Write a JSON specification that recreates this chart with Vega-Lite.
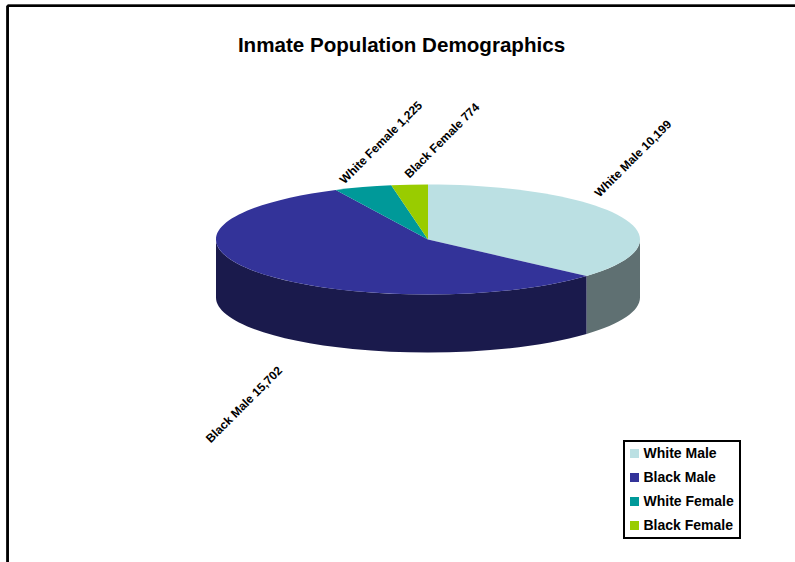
{
  "$schema": "https://vega.github.io/schema/vega-lite/v6.json",
  "width": 795,
  "height": 562,
  "padding": 0,
  "autosize": {"type": "none"},
  "background": "white",
  "view": {"stroke": null},
  "title": {
    "text": "Inmate Population Demographics",
    "font": "Liberation Sans",
    "fontSize": 20.6,
    "fontWeight": "bold",
    "color": "black",
    "anchor": "middle",
    "frame": "group",
    "baseline": "alphabetic",
    "offset": -73,
    "dx": 4
  },
  "config": {
    "legend": {"symbolType": "square", "strokeWidth": 2}
  },
  "data": {
    "values": [
      {"slice": "White Male", "value": 10199},
      {"slice": "Black Male", "value": 15702},
      {"slice": "White Female", "value": 1225},
      {"slice": "Black Female", "value": 774}
    ]
  },
  "transform": [
    {"joinaggregate": [{"op": "sum", "field": "value", "as": "total"}]},
    {"window": [{"op": "sum", "field": "value", "as": "cum"}]},
    {"calculate": "(datum.cum - datum.value) / datum.total * 2 * PI", "as": "a0"},
    {"calculate": "datum.cum / datum.total * 2 * PI", "as": "a1"},
    {"calculate": "round(212 * sin(datum.a0) * 100) / 100", "as": "x0"},
    {"calculate": "round(-55 * cos(datum.a0) * 100) / 100", "as": "y0"},
    {"calculate": "round(212 * sin(datum.a1) * 100) / 100", "as": "x1"},
    {"calculate": "round(-55 * cos(datum.a1) * 100) / 100", "as": "y1"},
    {"calculate": "0", "as": "cx"},
    {"calculate": "0", "as": "cy"}
  ],
  "encoding": {
    "x": {"field": "cx", "type": "quantitative", "axis": null, "scale": {"domain": [-1, 1], "range": [216, 640]}},
    "y": {"field": "cy", "type": "quantitative", "axis": null, "scale": {"domain": [-1, 1], "range": [294.5, 184.5]}}
  },
  "layer": [
    {
      "mark": {"type": "rule", "color": "black", "strokeWidth": 2},
      "encoding": {
        "x": {"datum": -1.983},
        "y": {"datum": 4.25},
        "y2": {"datum": -6}
      }
    },
    {
      "mark": {"type": "rule", "color": "black", "strokeWidth": 2},
      "encoding": {
        "x": {"datum": -1.983},
        "x2": {"datum": 1.8},
        "y": {"datum": 4.25}
      }
    },
    {
      "transform": [
        {"filter": "datum.a0 < 1.5 * PI && datum.a1 > PI / 2"},
        {"calculate": "max(datum.a0, PI / 2)", "as": "w0"},
        {"calculate": "min(datum.a1, 1.5 * PI)", "as": "w1"},
        {"calculate": "round(212 * sin(datum.w0) * 100) / 100", "as": "wx0"},
        {"calculate": "round(-55 * cos(datum.w0) * 100) / 100", "as": "wy0"},
        {"calculate": "round(212 * sin(datum.w1) * 100) / 100", "as": "wx1"},
        {"calculate": "round(-55 * cos(datum.w1) * 100) / 100", "as": "wy1"},
        {"calculate": "'M' + datum.wx0 + ' ' + datum.wy0 + 'A212 55 0 0 1 ' + datum.wx1 + ' ' + datum.wy1 + 'L' + datum.wx1 + ' ' + (datum.wy1 + 58) + 'A212 55 0 0 0 ' + datum.wx0 + ' ' + (datum.wy0 + 58) + 'Z'", "as": "wallPath"}
      ],
      "mark": {"type": "point", "filled": true, "opacity": 1},
      "encoding": {
        "shape": {"field": "wallPath", "type": "nominal", "scale": null},
        "size": {"value": 4},
        "color": {
          "field": "slice",
          "type": "nominal",
          "legend": null,
          "scale": {
            "domain": ["White Male", "Black Male"],
            "range": ["#5F7072", "#1A1A4C"]
          }
        }
      }
    },
    {
      "transform": [
        {"calculate": "'M0 0L' + datum.x0 + ' ' + datum.y0 + 'A212 55 0 ' + (datum.a1 - datum.a0 > PI ? 1 : 0) + ' 1 ' + datum.x1 + ' ' + datum.y1 + 'Z'", "as": "topPath"}
      ],
      "mark": {"type": "point", "filled": true, "opacity": 1},
      "encoding": {
        "shape": {"field": "topPath", "type": "nominal", "scale": null},
        "size": {"value": 4},
        "color": {
          "field": "slice",
          "type": "nominal",
          "scale": {
            "domain": ["White Male", "Black Male", "White Female", "Black Female"],
            "range": ["#BBE0E3", "#333399", "#009999", "#99CC00"]
          },
          "legend": {
            "title": null,
            "orient": "none",
            "legendX": 624,
            "legendY": 441,
            "symbolSize": 81,
            "symbolType": "square",
            "symbolStrokeWidth": 0,
            "symbolOffset": -2,
            "labelFont": "Liberation Sans",
            "labelFontSize": 14,
            "labelFontWeight": "bold",
            "labelColor": "black",
            "labelOffset": 2,
            "rowPadding": 10,
            "padding": 5.5,
            "strokeColor": "black",
            "fillColor": "white"
          }
        }
      }
    },
    {
      "transform": [
        {"calculate": "datum.slice + ' ' + format(datum.value, ',')", "as": "label"},
        {"calculate": "{'White Male': 0.967, 'Black Male': -0.868, 'White Female': -0.222, 'Black Female': 0.066}[datum.slice]", "as": "labelX"},
        {"calculate": "{'White Male': 1.473, 'Black Male': -3.0, 'White Female': 1.764, 'Black Female': 1.8}[datum.slice]", "as": "labelY"}
      ],
      "mark": {
        "type": "text",
        "angle": -45,
        "align": "center",
        "baseline": "middle",
        "font": "Liberation Sans",
        "fontSize": 12,
        "fontWeight": "bold",
        "color": "black"
      },
      "encoding": {
        "x": {"field": "labelX", "type": "quantitative"},
        "y": {"field": "labelY", "type": "quantitative"},
        "text": {"field": "label", "type": "nominal"}
      }
    }
  ],
  "resolve": {"scale": {"color": "independent"}}
}
